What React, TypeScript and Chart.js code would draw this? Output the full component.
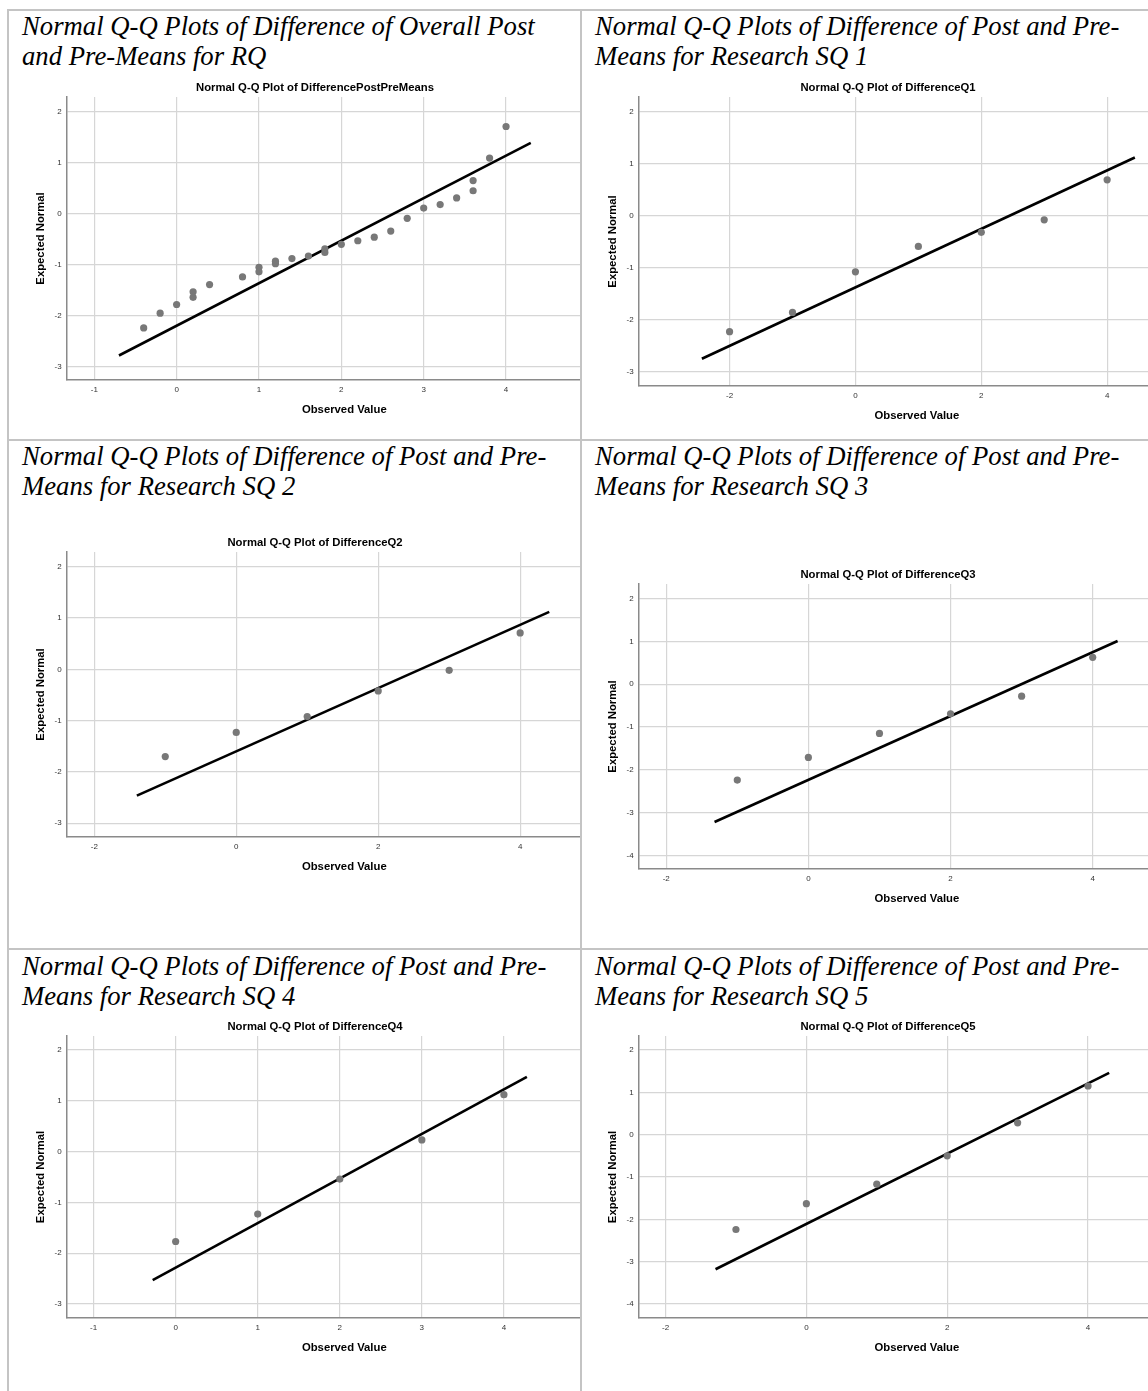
import React, { useEffect, useRef } from 'react';
import { Chart, registerables } from 'chart.js';

Chart.register(...registerables);

const SANS = "'Liberation Sans', Arial, Helvetica, sans-serif";
const SERIF = "'Liberation Serif', 'Times New Roman', Times, serif";

// ---------------- Data ----------------
// RQ: DifferencePostPreMeans
const rqObserved = [-0.4, -0.2, 0, 0.2, 0.2, 0.4, 0.8, 1.0, 1.0, 1.2, 1.2, 1.4, 1.6, 1.8, 1.8, 2.0, 2.2, 2.4, 2.6, 2.8, 3.0, 3.2, 3.4, 3.6, 3.6, 3.8, 4.0];
const rqExpected = [-2.24, -1.95, -1.78, -1.53, -1.64, -1.39, -1.24, -1.05, -1.14, -0.93, -0.98, -0.88, -0.83, -0.69, -0.76, -0.60, -0.53, -0.46, -0.34, -0.09, 0.11, 0.18, 0.31, 0.45, 0.65, 1.09, 1.71];
const rqLineObserved = [-0.70, 4.30];
const rqLineExpected = [-2.78, 1.39];
const rqXTicks = [-1, 0, 1, 2, 3, 4];
const rqYTicks = [-3, -2, -1, 0, 1, 2];
const rqXRange = [-1.336, 5.408];
const rqYRange = [-3.26, 2.288];

// SQ1: DifferenceQ1
const q1Observed = [-2, -1, 0, 1, 2, 3, 4];
const q1Expected = [-2.23, -1.86, -1.08, -0.59, -0.32, -0.08, 0.69];
const q1LineObserved = [-2.44, 4.44];
const q1LineExpected = [-2.75, 1.12];
const q1XTicks = [-2, 0, 2, 4];
const q1YTicks = [-3, -2, -1, 0, 1, 2];
const q1XRange = [-3.444, 5.396];
const q1YRange = [-3.275, 2.283];

// SQ2: DifferenceQ2
const q2Observed = [-1, 0, 1, 2, 3, 4];
const q2Expected = [-1.70, -1.23, -0.92, -0.42, -0.02, 0.71];
const q2LineObserved = [-1.40, 4.41];
const q2LineExpected = [-2.46, 1.12];
const q2XTicks = [-2, 0, 2, 4];
const q2YTicks = [-3, -2, -1, 0, 1, 2];
const q2XRange = [-2.39, 5.435];
const q2YRange = [-3.267, 2.286];

// SQ3: DifferenceQ3
const q3Observed = [-1, 0, 1, 2, 3, 4];
const q3Expected = [-2.24, -1.71, -1.15, -0.69, -0.28, 0.63];
const q3LineObserved = [-1.32, 4.35];
const q3LineExpected = [-3.22, 1.01];
const q3XTicks = [-2, 0, 2, 4];
const q3YTicks = [-4, -3, -2, -1, 0, 1, 2];
const q3XRange = [-2.387, 5.439];
const q3YRange = [-4.32, 2.344];

// SQ4: DifferenceQ4
const q4Observed = [0, 1, 2, 3, 4];
const q4Expected = [-1.77, -1.23, -0.54, 0.23, 1.12];
const q4LineObserved = [-0.28, 4.28];
const q4LineExpected = [-2.53, 1.47];
const q4XTicks = [-1, 0, 1, 2, 3, 4];
const q4YTicks = [-3, -2, -1, 0, 1, 2];
const q4XRange = [-1.329, 5.439];
const q4YRange = [-3.276, 2.276];

// SQ5: DifferenceQ5
const q5Observed = [-1, 0, 1, 2, 3, 4];
const q5Expected = [-2.24, -1.63, -1.17, -0.50, 0.28, 1.15];
const q5LineObserved = [-1.29, 4.30];
const q5LineExpected = [-3.18, 1.46];
const q5XTicks = [-2, 0, 2, 4];
const q5YTicks = [-4, -3, -2, -1, 0, 1, 2];
const q5XRange = [-2.381, 5.519];
const q5YRange = [-4.331, 2.331];

const chartTitles = [
  'Normal Q-Q Plot of DifferencePostPreMeans',
  'Normal Q-Q Plot of DifferenceQ1',
  'Normal Q-Q Plot of DifferenceQ2',
  'Normal Q-Q Plot of DifferenceQ3',
  'Normal Q-Q Plot of DifferenceQ4',
  'Normal Q-Q Plot of DifferenceQ5',
];

const headings = [
  ['Normal Q-Q Plots of Difference of Overall Post', 'and Pre-Means for RQ'],
  ['Normal Q-Q Plots of Difference of Post and Pre-', 'Means for Research SQ 1'],
  ['Normal Q-Q Plots of Difference of Post and Pre-', 'Means for Research SQ 2'],
  ['Normal Q-Q Plots of Difference of Post and Pre-', 'Means for Research SQ 3'],
  ['Normal Q-Q Plots of Difference of Post and Pre-', 'Means for Research SQ 4'],
  ['Normal Q-Q Plots of Difference of Post and Pre-', 'Means for Research SQ 5'],
];

const xAxisTitle = 'Observed Value';
const yAxisTitle = 'Expected Normal';

// ---------------- Layout ----------------
const CANVAS_W = 634;
const X_AXIS_H = 48;

type Panel = {
  title: string;
  obs: number[];
  exp: number[];
  lineX: number[];
  lineY: number[];
  xTicks: number[];
  yTicks: number[];
  xRange: number[];
  yRange: number[];
  left: number;
  top: number;
  height: number;
  yAxisW: number;
  clipW: number;
};

const panels: Panel[] = [
  { title: chartTitles[0], obs: rqObserved, exp: rqExpected, lineX: rqLineObserved, lineY: rqLineExpected, xTicks: rqXTicks, yTicks: rqYTicks, xRange: rqXRange, yRange: rqYRange, left: 8, top: 75, height: 353, yAxisW: 58.6, clipW: 572 },
  { title: chartTitles[1], obs: q1Observed, exp: q1Expected, lineX: q1LineObserved, lineY: q1LineExpected, xTicks: q1XTicks, yTicks: q1YTicks, xRange: q1XRange, yRange: q1YRange, left: 581, top: 75, height: 359, yAxisW: 57.7, clipW: 567 },
  { title: chartTitles[2], obs: q2Observed, exp: q2Expected, lineX: q2LineObserved, lineY: q2LineExpected, xTicks: q2XTicks, yTicks: q2YTicks, xRange: q2XRange, yRange: q2YRange, left: 8, top: 530, height: 355, yAxisW: 58.6, clipW: 572 },
  { title: chartTitles[3], obs: q3Observed, exp: q3Expected, lineX: q3LineObserved, lineY: q3LineExpected, xTicks: q3XTicks, yTicks: q3YTicks, xRange: q3XRange, yRange: q3YRange, left: 581, top: 562, height: 355, yAxisW: 57.7, clipW: 567 },
  { title: chartTitles[4], obs: q4Observed, exp: q4Expected, lineX: q4LineObserved, lineY: q4LineExpected, xTicks: q4XTicks, yTicks: q4YTicks, xRange: q4XRange, yRange: q4YRange, left: 8, top: 1014, height: 352, yAxisW: 58.6, clipW: 572 },
  { title: chartTitles[5], obs: q5Observed, exp: q5Expected, lineX: q5LineObserved, lineY: q5LineExpected, xTicks: q5XTicks, yTicks: q5YTicks, xRange: q5XRange, yRange: q5YRange, left: 581, top: 1014, height: 352, yAxisW: 57.7, clipW: 567 },
];

const headingPos = [
  { left: 22, top: 11 },
  { left: 595, top: 11 },
  { left: 22, top: 441 },
  { left: 595, top: 441 },
  { left: 22, top: 951 },
  { left: 595, top: 951 },
];

function QQChart({ p }: { p: Panel }) {
  const ref = useRef<HTMLCanvasElement | null>(null);
  useEffect(() => {
    if (!ref.current) return;
    const gridColor = '#d6d6d6';
    const axisColor = '#8a8a8a';
    const tickFont = { family: SANS, size: 8 };
    const titleFont = { family: SANS, size: 11.3, weight: 'bold' as const, lineHeight: '14px' };
    const chart = new Chart(ref.current, {
      type: 'scatter',
      data: {
        datasets: [
          {
            data: p.obs.map((x, i) => ({ x, y: p.exp[i] })),
            showLine: false,
            pointRadius: 3.6,
            pointBackgroundColor: '#787878',
            pointBorderColor: '#787878',
            pointBorderWidth: 0,
            order: 1,
          },
          {
            data: p.lineX.map((x, i) => ({ x, y: p.lineY[i] })),
            showLine: true,
            borderColor: '#000000',
            borderWidth: 2.6,
            pointRadius: 0,
            order: 2,
          },
        ],
      },
      options: {
        animation: false,
        responsive: false,
        events: [],
        layout: { padding: { left: 0, right: 20, top: 0, bottom: 0 } },
        plugins: {
          legend: { display: false },
          tooltip: { enabled: false },
          title: {
            display: true,
            text: p.title,
            color: '#000000',
            font: titleFont,
            padding: { top: 6, bottom: 2 },
          },
        },
        scales: {
          x: {
            type: 'linear',
            min: p.xRange[0],
            max: p.xRange[1],
            afterBuildTicks: (s: any) => {
              s.ticks = p.xTicks.map((v) => ({ value: v }));
            },
            afterFit: (s: any) => {
              s.height = X_AXIS_H;
            },
            grid: { color: gridColor, lineWidth: 1.2, drawTicks: false },
            border: { display: true, color: axisColor, width: 1.5 },
            ticks: { padding: 5, font: tickFont, color: '#333333' },
            title: {
              display: true,
              text: xAxisTitle,
              color: '#000000',
              font: titleFont,
              padding: { top: 0, bottom: X_AXIS_H - 30 - 7 },
            },
          },
          y: {
            type: 'linear',
            min: p.yRange[0],
            max: p.yRange[1],
            afterBuildTicks: (s: any) => {
              s.ticks = p.yTicks.map((v) => ({ value: v }));
            },
            afterFit: (s: any) => {
              s.width = p.yAxisW;
            },
            grid: { color: gridColor, lineWidth: 1.2, drawTicks: false },
            border: { display: true, color: axisColor, width: 1.5 },
            ticks: { padding: 5, font: tickFont, color: '#333333' },
            title: {
              display: true,
              text: yAxisTitle,
              color: '#000000',
              font: titleFont,
              padding: { top: p.yAxisW - 26 - 7, bottom: 0 },
            },
          },
        },
      },
    } as any);
    return () => chart.destroy();
  }, [p]);

  return (
    <div
      style={{
        position: 'absolute',
        left: p.left,
        top: p.top,
        width: p.clipW,
        height: p.height,
        overflow: 'hidden',
      }}
    >
      <canvas
        ref={ref}
        width={CANVAS_W}
        height={p.height}
        style={{ display: 'block', width: CANVAS_W, height: p.height }}
      />
    </div>
  );
}

const borderColor = '#c4c4c4';

export default function App() {
  return (
    <div
      style={{
        position: 'absolute',
        left: 0,
        top: 0,
        width: 1148,
        height: 1391,
        overflow: 'hidden',
        background: '#ffffff',
      }}
    >
      {panels.map((p, i) => (
        <QQChart key={i} p={p} />
      ))}
      {headings.map((lines, i) => (
        <div
          key={'h' + i}
          style={{
            position: 'absolute',
            left: headingPos[i].left,
            top: headingPos[i].top,
            fontFamily: SERIF,
            fontStyle: 'italic',
            fontSize: '26.7px',
            lineHeight: '30px',
            color: '#000000',
            whiteSpace: 'nowrap',
          }}
        >
          <div>{lines[0]}</div>
          <div>{lines[1]}</div>
        </div>
      ))}
      {/* table borders */}
      <div style={{ position: 'absolute', left: 7, top: 9, width: 1141, height: 2, background: borderColor }} />
      <div style={{ position: 'absolute', left: 7, top: 9, width: 2, height: 1382, background: borderColor }} />
      <div style={{ position: 'absolute', left: 580, top: 9, width: 2, height: 1382, background: borderColor }} />
      <div style={{ position: 'absolute', left: 7, top: 439, width: 1141, height: 2, background: borderColor }} />
      <div style={{ position: 'absolute', left: 7, top: 948, width: 1141, height: 2, background: borderColor }} />
    </div>
  );
}
